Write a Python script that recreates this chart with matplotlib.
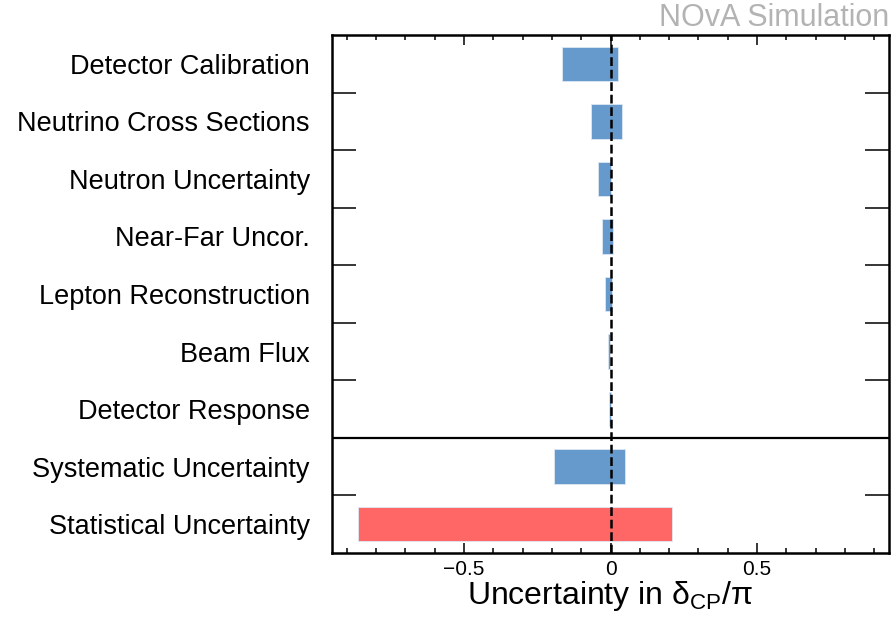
import matplotlib
matplotlib.use("Agg")
import matplotlib.pyplot as plt
from matplotlib.ticker import MultipleLocator, FixedLocator

plt.rcParams['font.family'] = ['Liberation Sans', 'DejaVu Sans']
plt.rcParams['mathtext.fontset'] = 'custom'
plt.rcParams['mathtext.rm'] = 'Liberation Sans'
plt.rcParams['mathtext.it'] = 'Liberation Sans:italic'

# Uncertainty ranges on delta_CP / pi (low edge, high edge), top to bottom
categories = [
    "Detector Calibration",
    "Neutrino Cross Sections",
    "Neutron Uncertainty",
    "Near-Far Uncor.",
    "Lepton Reconstruction",
    "Beam Flux",
    "Detector Response",
    "Systematic Uncertainty",
    "Statistical Uncertainty",
]
low = [-0.166, -0.068, -0.044, -0.028, -0.018, -0.010, -0.004, -0.193, -0.860]
high = [0.025, 0.039, 0.001, 0.010, 0.005, -0.001, 0.001, 0.050, 0.210]
kinds = ["syst"] * 8 + ["stat"]

colors = {"syst": "#6699cc", "stat": "#ff6666"}

fig = plt.figure(figsize=(8.96, 6.2), dpi=100)
ax = fig.add_axes([332 / 896, 1 - 553 / 620, (889 - 332) / 896, (553 - 35) / 620])

ypos = list(range(len(categories)))
widths = [h - l for l, h in zip(low, high)]
ax.barh(ypos, widths, left=low, height=0.6,
        color=[colors[k] for k in kinds], edgecolor="#dde8f4", linewidth=0.6, zorder=2)

ax.set_xlim(-0.95, 0.95)
ax.set_ylim(len(categories) - 0.5, -0.5)

# zero line and the split between individual systematics and totals
ax.axvline(0, color="black", lw=1.8, ls=(0, (3.5, 1.5)), zorder=3)
ax.axhline(6.5, color="black", lw=1.6, zorder=3)

# x ticks
ax.xaxis.set_major_locator(FixedLocator([-0.5, 0, 0.5]))
ax.xaxis.set_minor_locator(MultipleLocator(0.1))
ax.set_xticklabels(["\u22120.5", "0", "0.5"])
ax.tick_params(axis="x", which="major", direction="in", length=7.5, width=1.1,
               top=True, bottom=True, labelsize=15, pad=5)
ax.tick_params(axis="x", which="minor", direction="in", length=3.8, width=1.1,
               top=True, bottom=True)

# y: labels at row centres, ticks at row boundaries
ax.yaxis.set_major_locator(FixedLocator(ypos))
ax.set_yticklabels(categories)
ax.yaxis.set_minor_locator(FixedLocator([i + 0.5 for i in ypos[:-1]]))
ax.tick_params(axis="y", which="major", length=0, labelsize=19.5, pad=16)
ax.tick_params(axis="y", which="minor", direction="in", length=17, width=1.1,
               left=True, right=True)

for s in ax.spines.values():
    s.set_linewidth(1.8)

ax.set_xlabel("Uncertainty in \u03b4$_\\mathregular{CP}$/\u03c0", fontsize=23, labelpad=0)

fig.text(889 / 896, 1 - 18 / 620, "NOvA Simulation", ha="right", va="center",
         fontsize=22, color="#b3b3b3")

fig.savefig("out.png", dpi=100)
